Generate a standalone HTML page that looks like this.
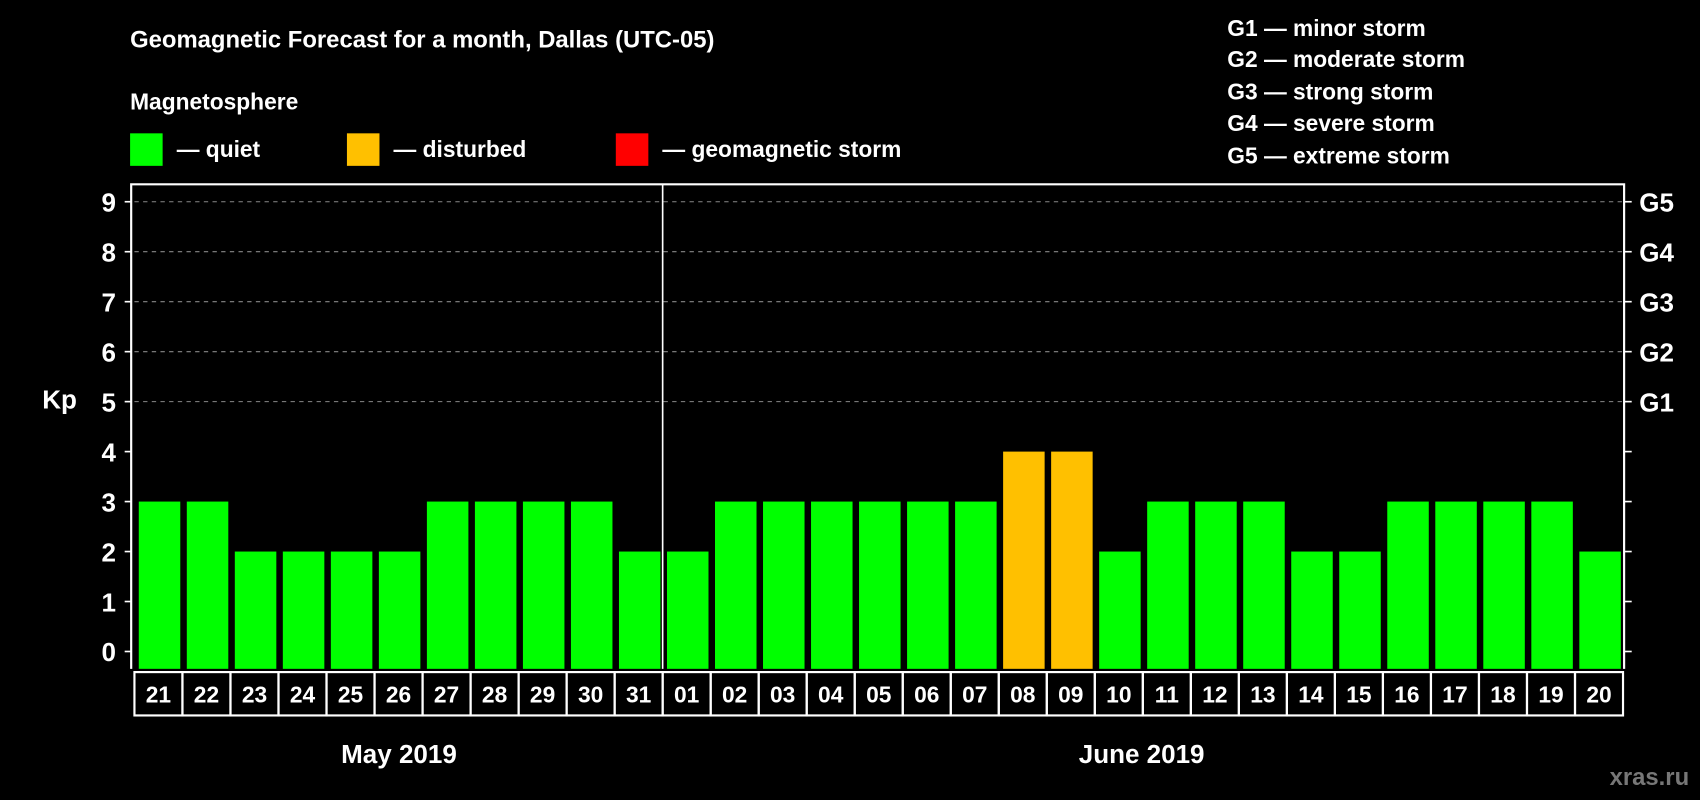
<!DOCTYPE html>
<html><head><meta charset="utf-8"><style>
html,body{margin:0;padding:0;background:#000;}
svg{display:block;font-family:"Liberation Sans",sans-serif;font-weight:bold;}
</style></head><body>
<svg id="chart" width="1700" height="800" viewBox="0 0 1568 738" preserveAspectRatio="none">
<rect x="0" y="0" width="1568" height="738" fill="#000"/>
<text x="120" y="44" fill="#fff" font-size="22">Geomagnetic Forecast for a month, Dallas (UTC-05)</text>
<text x="120" y="101" fill="#fff" font-size="21">Magnetosphere</text>
<g><rect x="120" y="123" width="30" height="30" fill="#00ff00"/><text x="163" y="145" fill="#fff" font-size="21">— quiet</text></g>
<g><rect x="320" y="123" width="30" height="30" fill="#ffc000"/><text x="363" y="145" fill="#fff" font-size="21">— disturbed</text></g>
<g><rect x="568" y="123" width="30" height="30" fill="#ff0000"/><text x="611" y="145" fill="#fff" font-size="21">— geomagnetic storm</text></g>
<g fill="#fff" font-size="21">
<text x="1132" y="33">G1 — minor storm</text>
<text x="1132" y="62">G2 — moderate storm</text>
<text x="1132" y="92">G3 — strong storm</text>
<text x="1132" y="121">G4 — severe storm</text>
<text x="1132" y="151">G5 — extreme storm</text>
</g>
<text x="39" y="377" fill="#fff" font-size="24">Kp</text>
<g id="plot"></g>
<text x="368" y="704" fill="#fff" font-size="24" text-anchor="middle">May 2019</text>
<text x="1053" y="704" fill="#fff" font-size="24" text-anchor="middle">June 2019</text>
<text x="1558" y="724" fill="#777" font-size="22" text-anchor="end">xras.ru</text>
</svg>
<script>
const days=["21","22","23","24","25","26","27","28","29","30","31","01","02","03","04","05","06","07","08","09","10","11","12","13","14","15","16","17","18","19","20"];
const kpValues=[3,3,2,2,2,2,3,3,3,3,2,2,3,3,3,3,3,3,4,4,2,3,3,3,2,2,3,3,3,3,2];
const yTicks=[0,1,2,3,4,5,6,7,8,9];
const stormLabels=["G1","G2","G3","G4","G5"];
const stormLevels=[5,6,7,8,9];
const NS="http://www.w3.org/2000/svg";
const g=document.getElementById("plot");
const L=124,R=1497,T=170,B=617;
const cw=(R-L)/days.length;
function y(v){return 601-v*46.1;}
function x(i){return L+i*cw;}
function mk(t,a,txt){const e=document.createElementNS(NS,t);for(const k in a)e.setAttribute(k,a[k]);if(txt!==undefined)e.textContent=txt;g.appendChild(e);return e;}
function color(v){return v>=5?"#ff0000":(v>=4?"#ffc000":"#00ff00");}
stormLevels.forEach((lv,i)=>{
const l=mk("line",{x1:L,x2:R,y1:y(lv),y2:y(lv),stroke:"#888","stroke-width":1,"stroke-dasharray":"4,4"});


const t=mk("text",{x:1512,y:y(lv)+9,fill:"#fff","font-size":24},stormLabels[i]);


});
yTicks.forEach(v=>{
const t=mk("text",{x:107,y:y(v)+9,fill:"#fff","font-size":24,"text-anchor":"end"},String(v));


const tk=mk("line",{x1:115,x2:121,y1:y(v),y2:y(v),stroke:"#fff","stroke-width":1.5});


const tr=mk("line",{x1:1498,x2:1505,y1:y(v),y2:y(v),stroke:"#fff","stroke-width":1.5});


});
kpValues.forEach((v,i)=>{
const b=mk("rect",{x:x(i)+4,y:y(v),width:cw-6,height:B-y(v),fill:color(v)});


const c=mk("rect",{x:x(i),y:620,width:cw,height:40,fill:"none",stroke:"#fff","stroke-width":2});


const t=mk("text",{x:x(i)+cw/2,y:648,fill:"#fff","font-size":21,"text-anchor":"middle"},days[i]);


});
const fr=mk("path",{d:`M121 ${B} V${T} H1498 V${B}`,fill:"none",stroke:"#fff","stroke-width":2});


const md=days.indexOf("01");
const dv=mk("line",{x1:x(md),x2:x(md),y1:T,y2:B,stroke:"#fff","stroke-width":1.5});


</script>
</body></html>
